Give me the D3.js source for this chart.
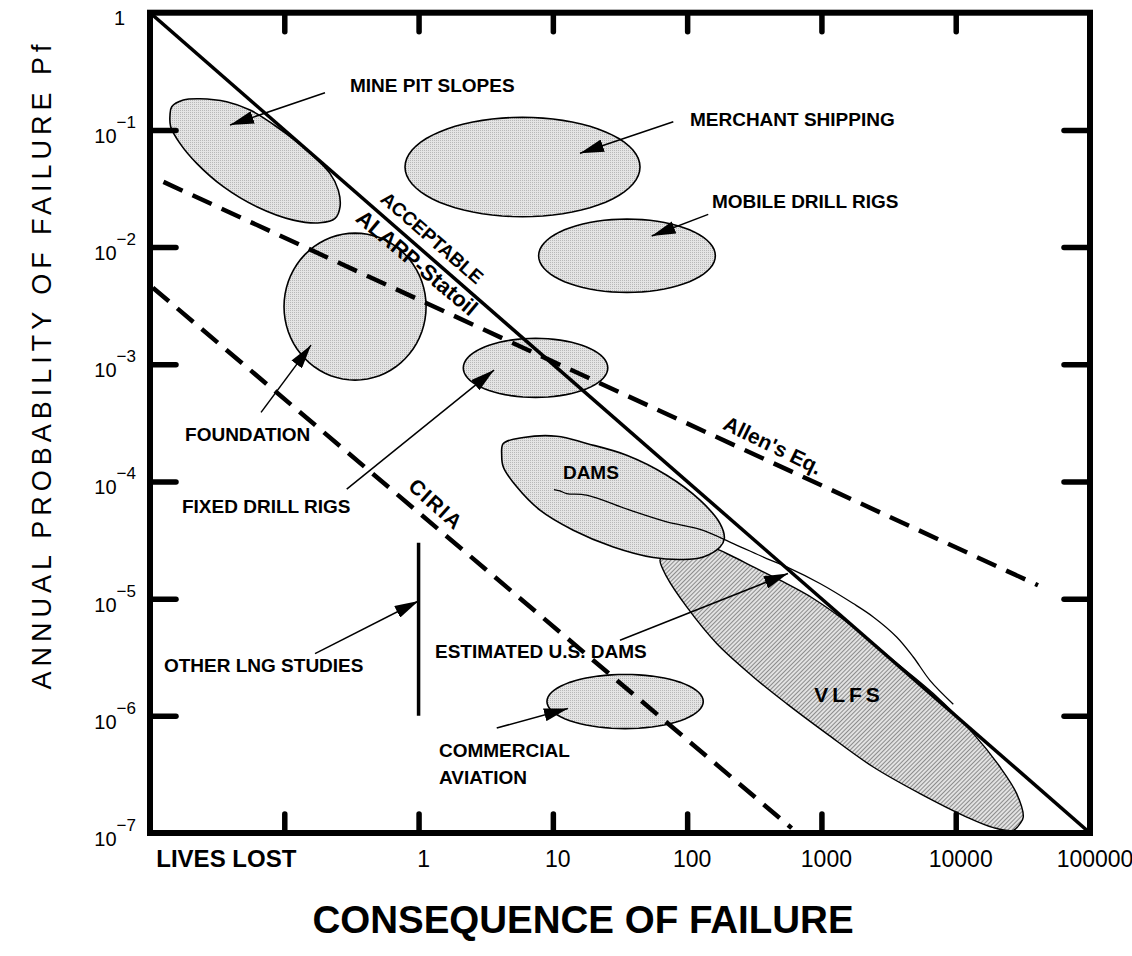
<!DOCTYPE html>
<html><head><meta charset="utf-8">
<script src="https://cdn.jsdelivr.net/npm/d3@7"></script>
<style>
body{margin:0;background:#fff}
svg{display:block}
text{font-family:"Liberation Sans",Arial,Helvetica,sans-serif;fill:#000}
</style>
</head><body>
<svg id="chart" width="1132" height="956"></svg>
<script>
// ---------------- DATA ----------------
// axis ticks
const xTickValues = [0.1, 1, 10, 100, 1000, 10000];
const xLabelValues = [0.037, 1, 10, 100, 1000, 10000, 100000];
const xLabelTexts = ["LIVES LOST", "1", "10", "100", "1000", "10000", "100000"];
const yTickValues = [1e-1, 1e-2, 1e-3, 1e-4, 1e-5, 1e-6];
const yLabelExponents = [0, -1, -2, -3, -4, -5, -6, -7];

// criteria lines (lives lost N, annual probability P)
const acceptableN = [0.01, 100000];
const acceptableP = [1, 1e-7];
const allenN = [0.0126, 41000];
const allenP = [0.036, 1.3e-5];
const ciriaN = [0.0105, 600];
const ciriaP = [0.0045, 1.1e-7];
const lngN = [1, 1];
const lngP = [1e-6, 3e-5];

// elliptical regions, in log10 units: centre (logN, logP) and half-widths in decades
const ellipseNames = ["MERCHANT SHIPPING", "MOBILE DRILL RIGS", "FOUNDATION", "FIXED DRILL RIGS", "COMMERCIAL AVIATION"];
const ellipseLogN = [0.774, 1.552, -0.473, 0.871, 1.538];
const ellipseLogP = [-1.317, -2.074, -2.508, -3.031, -5.878];
const ellipseHalfN = [0.875, 0.658, 0.529, 0.538, 0.582];
const ellipseHalfP = [0.424, 0.313, 0.627, 0.252, 0.231];

// irregular regions: outlines as [log10 N, log10 P]
const mineOutline = [[-1.838,-0.802],[-1.752,-0.745],[-1.628,-0.734],[-1.429,-0.760],[-1.255,-0.831],[-1.057,-0.973],[-0.833,-1.172],[-0.660,-1.371],[-0.598,-1.514],[-0.585,-1.656],[-0.622,-1.755],[-0.734,-1.793],[-0.933,-1.770],[-1.205,-1.656],[-1.454,-1.485],[-1.652,-1.286],[-1.777,-1.115],[-1.846,-0.973],[-1.851,-0.873]];
const damsOutline = [[0.631,-3.676],[0.780,-3.625],[1.029,-3.614],[1.252,-3.676],[1.550,-3.776],[1.848,-3.947],[2.096,-4.160],[2.245,-4.359],[2.277,-4.487],[2.245,-4.559],[2.120,-4.644],[1.971,-4.666],[1.748,-4.649],[1.450,-4.559],[1.152,-4.416],[0.904,-4.245],[0.731,-4.046],[0.631,-3.876],[0.619,-3.776]];
const vlfsOutline = [[1.798,-4.672],[1.848,-4.815],[1.997,-5.071],[2.220,-5.383],[2.493,-5.668],[2.741,-5.896],[3.039,-6.152],[3.386,-6.437],[3.734,-6.664],[4.082,-6.864],[4.280,-6.954],[4.429,-6.977],[4.479,-6.920],[4.503,-6.864],[4.454,-6.664],[4.330,-6.437],[4.131,-6.152],[3.833,-5.810],[3.535,-5.526],[3.237,-5.242],[2.939,-4.999],[2.691,-4.843],[2.493,-4.729],[2.294,-4.615],[2.170,-4.559],[1.997,-4.587],[1.822,-4.630]];
const usDamsCurve = [[1.008,-4.069],[1.053,-4.081],[1.103,-4.103],[1.252,-4.117],[1.574,-4.245],[1.848,-4.345],[2.096,-4.410],[2.344,-4.530],[2.592,-4.658],[2.741,-4.729],[2.989,-4.871],[3.237,-5.042],[3.386,-5.156],[3.560,-5.327],[3.684,-5.498],[3.808,-5.697],[3.982,-5.901]];

// labels: text, anchor (log10 N, log10 P) = start of baseline
const labelTexts = ["MINE PIT SLOPES","MERCHANT SHIPPING","MOBILE DRILL RIGS","FOUNDATION","FIXED DRILL RIGS","DAMS","OTHER LNG STUDIES","ESTIMATED U.S. DAMS","COMMERCIAL","AVIATION"];
const labelLogN = [-0.511, 2.021, 2.185, -1.739, -1.762, 1.075, -1.896, 0.122, 0.152, 0.152];
const labelLogP = [-0.677, -0.963, -1.667, -3.652, -4.271, -3.976, -5.628, -5.509, -6.354, -6.584];

// arrows: from (log10 N, log10 P) to tip
const arrowFrom = [[-0.697,-0.683],[1.897,-0.931],[2.157,-1.721],[-1.173,-3.411],[-0.535,-4.066],[-0.771,-5.469],[1.500,-5.355],[0.582,-6.104]];
const arrowTo = [[-1.404,-0.959],[1.202,-1.200],[1.736,-1.906],[-0.801,-2.837],[0.562,-3.050],[0.0,-5.020],[2.751,-4.786],[1.112,-5.938]];

// line labels: text, centre (log10 N, log10 P), rotation in degrees
const lineLabelTexts = ["ACCEPTABLE", "ALARP-Statoil", "Allen's Eq.", "CIRIA", "VLFS"];
const lineLabelLogN = [0.100, -0.012, 2.639, 0.130, 3.205];
const lineLabelLogP = [-1.923, -2.135, -3.690, -4.194, -5.820];
const lineLabelAngle = [41, 40, 26, 42, 0];

// ---------------- CHART ----------------
const svg = d3.select("#chart");
const x = d3.scaleLog().domain([0.01, 1e5]).range([150, 1090]);
const y = d3.scaleLog().domain([1e-7, 1]).range([833, 12.7]);
const lxp = l => x(Math.pow(10, l));
const lyp = l => y(Math.pow(10, l));
const [x0, x1] = x.range();
const [y1, y0] = y.range();

const defs = svg.append("defs");
const dp = defs.append("pattern").attr("id","dots").attr("width",2).attr("height",2).attr("patternUnits","userSpaceOnUse");
dp.append("rect").attr("width",2).attr("height",2).attr("fill","#e4e4e4");
dp.append("rect").attr("width",1).attr("height",1).attr("fill","#b8b8b8");
const hp = defs.append("pattern").attr("id","hatch").attr("width",3).attr("height",3).attr("patternUnits","userSpaceOnUse").attr("patternTransform","rotate(45)");
hp.append("rect").attr("width",3).attr("height",3).attr("fill","#e2e2e2");
hp.append("line").attr("x1",0.5).attr("y1",0).attr("x2",0.5).attr("y2",3).attr("stroke","#8c8c8c").attr("stroke-width",1);
defs.append("marker").attr("id","arrow").attr("viewBox","0 0 24 13").attr("refX",24).attr("refY",6.5)
  .attr("markerWidth",24).attr("markerHeight",13).attr("markerUnits","userSpaceOnUse").attr("orient","auto")
  .append("path").attr("d","M0,0 L24,6.5 L0,13 Z").attr("fill","#000");

const clip = defs.append("clipPath").attr("id","plotclip");
clip.append("rect").attr("x",x0).attr("y",y0).attr("width",x1-x0).attr("height",y1-y0);

const plot = svg.append("g").attr("clip-path","url(#plotclip)");

const closedCurve = d3.line().x(d => lxp(d[0])).y(d => lyp(d[1])).curve(d3.curveCatmullRomClosed.alpha(0.5));
const openCurve = d3.line().x(d => lxp(d[0])).y(d => lyp(d[1])).curve(d3.curveCatmullRom.alpha(0.5));
const straight = d3.line().x(d => x(d[0])).y(d => y(d[1]));

// regions
plot.append("path").attr("d", closedCurve(mineOutline)).attr("fill","url(#dots)").attr("stroke","#000").attr("stroke-width",1.6);
ellipseNames.forEach((n, i) => {
  const pts = d3.range(72).map(k => {
    const t = 2 * Math.PI * k / 72;
    return [ellipseLogN[i] + ellipseHalfN[i] * Math.cos(t), ellipseLogP[i] + ellipseHalfP[i] * Math.sin(t)];
  });
  plot.append("path").attr("d", d3.line().x(d => lxp(d[0])).y(d => lyp(d[1])).curve(d3.curveLinearClosed)(pts))
    .attr("fill","url(#dots)").attr("stroke","#000").attr("stroke-width",1.6);
});
plot.append("path").attr("d", closedCurve(vlfsOutline)).attr("fill","url(#hatch)").attr("stroke","#000").attr("stroke-width",1.4);
plot.append("path").attr("d", closedCurve(damsOutline)).attr("fill","url(#dots)").attr("stroke","#000").attr("stroke-width",1.6);

// criteria lines
const zip = (a, b) => a.map((v, i) => [v, b[i]]);
plot.append("path").attr("d", straight(zip(allenN, allenP))).attr("fill","none").attr("stroke","#000").attr("stroke-width",4.5).attr("stroke-dasharray","21,11");
plot.append("path").attr("d", straight(zip(ciriaN, ciriaP))).attr("fill","none").attr("stroke","#000").attr("stroke-width",4.5).attr("stroke-dasharray","21,11");
plot.append("path").attr("d", straight(zip(acceptableN, acceptableP))).attr("fill","none").attr("stroke","#000").attr("stroke-width",3.5);
plot.append("path").attr("d", straight(zip(lngN, lngP))).attr("fill","none").attr("stroke","#000").attr("stroke-width",3.5);
plot.append("path").attr("d", openCurve(usDamsCurve)).attr("fill","none").attr("stroke","#000").attr("stroke-width",1.3);

// arrows
arrowFrom.forEach((f, i) => {
  plot.append("line").attr("x1", lxp(f[0])).attr("y1", lyp(f[1]))
    .attr("x2", lxp(arrowTo[i][0])).attr("y2", lyp(arrowTo[i][1]))
    .attr("stroke","#000").attr("stroke-width",1.5).attr("marker-end","url(#arrow)");
});

// labels
labelTexts.forEach((t, i) => {
  svg.append("text").attr("x", lxp(labelLogN[i])).attr("y", lyp(labelLogP[i]))
    .attr("font-size",19).attr("font-weight","bold").text(t);
});
lineLabelTexts.forEach((t, i) => {
  const cx = lxp(lineLabelLogN[i]), cy = lyp(lineLabelLogP[i]);
  const isV = t === "VLFS";
  svg.append("text").attr("transform", `translate(${cx},${cy}) rotate(${lineLabelAngle[i]})`)
    .attr("text-anchor","middle").attr("dominant-baseline","central")
    .attr("font-size", t === "ACCEPTABLE" ? 19 : (t === "ALARP-Statoil" ? 22 : 21))
    .attr("font-weight","bold")
    .attr("letter-spacing", isV ? 4 : (t === "CIRIA" ? 1.5 : 0))
    .text(t);
});

// frame
svg.append("rect").attr("x",x0).attr("y",y0).attr("width",x1-x0).attr("height",y1-y0)
  .attr("fill","none").attr("stroke","#000").attr("stroke-width",6);

// inward ticks with d3 axes
const tickStyle = g => { g.select(".domain").remove(); g.selectAll(".tick line").attr("stroke","#000").attr("stroke-width",5.5).attr("stroke-linecap","round"); g.selectAll(".tick text").remove(); };
svg.append("g").attr("transform",`translate(0,${y0})`).call(d3.axisBottom(x).tickValues(xTickValues).tickSize(19).tickFormat("")).call(tickStyle);
svg.append("g").attr("transform",`translate(0,${y1})`).call(d3.axisTop(x).tickValues(xTickValues).tickSize(19).tickFormat("")).call(tickStyle);
svg.append("g").attr("transform",`translate(${x0},0)`).call(d3.axisRight(y).tickValues(yTickValues).tickSize(26).tickFormat("")).call(tickStyle);
svg.append("g").attr("transform",`translate(${x1},0)`).call(d3.axisLeft(y).tickValues(yTickValues).tickSize(26).tickFormat("")).call(tickStyle);

// x tick labels
xLabelValues.forEach((v, i) => {
  const lives = i === 0;
  svg.append("text").attr("x", x(v) + (lives ? 0 : 5)).attr("y", 867)
    .attr("text-anchor","middle").attr("font-size", lives ? 24 : 23)
    .attr("font-weight", lives ? "bold" : "normal").text(xLabelTexts[i]);
});
// y tick labels
yLabelExponents.forEach(e => {
  const yy = y(Math.pow(10, e));
  if (e === 0) {
    svg.append("text").attr("x",125).attr("y",yy + 12).attr("text-anchor","end").attr("font-size",20).text("1");
  } else {
    const t = svg.append("text").attr("x",136).attr("y",yy + 13).attr("text-anchor","end").attr("font-size",20);
    t.append("tspan").text("10");
    t.append("tspan").attr("font-size",17).attr("dy",-15).text("\u2212" + Math.abs(e));
  }
});

// axis titles
svg.append("text").attr("transform","translate(42,367) rotate(-90)").attr("text-anchor","middle")
  .attr("dominant-baseline","central").attr("font-size",27)
  .attr("textLength",645).attr("lengthAdjust","spacing")
  .text("ANNUAL PROBABILITY OF FAILURE Pf");
svg.append("text").attr("x",583).attr("y",933).attr("text-anchor","middle")
  .attr("font-size",38.5).attr("font-weight","bold").text("CONSEQUENCE OF FAILURE");
</script>
</body></html>
